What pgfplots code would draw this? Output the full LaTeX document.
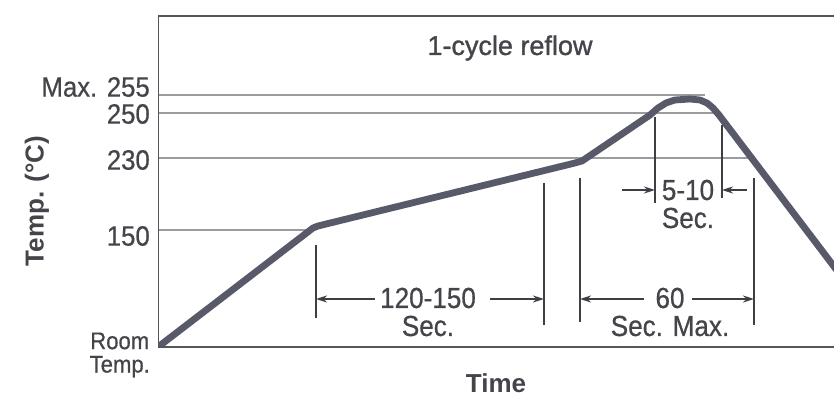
\documentclass[border=0pt]{standalone}
\usepackage{pgfplots}
\pgfplotsset{compat=1.18}
\usetikzlibrary{arrows.meta}
\usepackage{fontspec}
\setmainfont[FakeStretch=0.92, FakeBold=0.6]{Liberation Sans}
\newfontfamily\plainsans{Liberation Sans}
\newfontfamily\titlesans[FakeBold=1.2]{Liberation Sans}
\newfontfamily\narrowsans[FakeStretch=0.9, FakeBold=0.6]{Liberation Sans}
\definecolor{curvecol}{RGB}{88,90,106}
\definecolor{gridcol}{RGB}{155,155,160}
\definecolor{axiscol}{RGB}{85,85,92}
\definecolor{textcol}{RGB}{68,68,74}
\definecolor{dimcol}{RGB}{62,62,68}
\begin{document}
\begin{tikzpicture}[
  dim/.style={dimcol, line width=2pt},
  arr/.style={dim, -{Stealth[length=11pt,width=7pt]}},
  ann/.style={textcol, font=\narrowsans\fontsize{29}{29}\selectfont, inner sep=0pt}]
\begin{axis}[
  at={(158pt,54pt)}, anchor=south west,
  scale only axis, width=676pt, height=331pt,
  xmin=0, xmax=676, ymin=0, ymax=331,
  axis line style={draw=none},
  xtick=\empty,
  ytick={0,117,189,234,252},
  yticklabels={
    {\raisebox{-9pt}[\height][\depth]{\fontsize{24}{23}\selectfont\begin{tabular}{@{}c@{}}Room\\Temp.\end{tabular}}},
    {\raisebox{-6pt}[\height][\depth]{150}},
    {\raisebox{-2pt}[\height][\depth]{230}},
    {\raisebox{-1pt}[\height][\depth]{250}},
    {\raisebox{8pt}[\height][\depth]{Max. 255}}},
  major tick length=0pt,
  yticklabel style={anchor=east, inner sep=0pt, xshift=-8pt, textcol, font=\fontsize{28}{28}\selectfont},
  ylabel={Temp. (°C)},
  every axis y label/.style={at={(axis cs:-121,146)}, rotate=90, anchor=center, textcol, font=\plainsans\bfseries\fontsize{26}{26}\selectfont},
  xlabel={Time},
  every axis x label/.style={at={(axis cs:338,-36)}, anchor=center, textcol, font=\plainsans\bfseries\fontsize{26}{26}\selectfont},
]
% grid lines at the marked temperatures
\addplot[gridcol, line width=1.8pt] coordinates {(0,252) (547,252)};
\addplot[gridcol, line width=1.8pt] coordinates {(0,234) (556,234)};
\addplot[gridcol, line width=1.8pt] coordinates {(0,189) (592,189)};
\addplot[gridcol, line width=1.8pt] coordinates {(0,117) (153,117)};
% reflow profile
\addplot[curvecol, line width=6.8pt, line join=round] coordinates {
  (0,0) (155,119) (160,121) (417,184) (424,186) (492,232) (500,239) (508,244) (517,247)
  (532,248) (542,247) (549,244) (555,239) (561,232) (690,62)};
% dimension lines
\draw[dim] (axis cs:158,102) -- (axis cs:158,29);
\draw[dim] (axis cs:386,164) -- (axis cs:386,22);
\draw[dim] (axis cs:422,169) -- (axis cs:422,25);
\draw[dim] (axis cs:596,169) -- (axis cs:596,22);
\draw[dim] (axis cs:497,230) -- (axis cs:497,144);
\draw[dim] (axis cs:564,222) -- (axis cs:564,149);
\draw[arr] (axis cs:217,48) -- (axis cs:158,48);
\draw[arr] (axis cs:332,48) -- (axis cs:386,48);
\draw[arr] (axis cs:486,48) -- (axis cs:422,48);
\draw[arr] (axis cs:534,48) -- (axis cs:596,48);
\draw[arr] (axis cs:464,157) -- (axis cs:497,157);
\draw[arr] (axis cs:589,157) -- (axis cs:564,157);
\node[ann] at (axis cs:270,49) {120-150};
\node[ann] at (axis cs:270,21) {Sec.};
\node[ann] at (axis cs:512,49) {60};
\node[ann] at (axis cs:512,21) {Sec. Max.};
\node[ann] at (axis cs:530,157) {5-10};
\node[ann] at (axis cs:530,129) {Sec.};
\node[textcol, font=\titlesans\fontsize{27}{27}\selectfont, inner sep=0pt] at (axis cs:352,299) {1-cycle reflow};
% frame: left, top and bottom
\draw[axiscol, line width=2.5pt] (rel axis cs:1.01,1) -- (rel axis cs:0,1) -- (rel axis cs:0,0) -- (rel axis cs:1.01,0);
\end{axis}
\pgfresetboundingbox
\useasboundingbox (0,0) rectangle (834pt,401pt);
\end{tikzpicture}
\end{document}
